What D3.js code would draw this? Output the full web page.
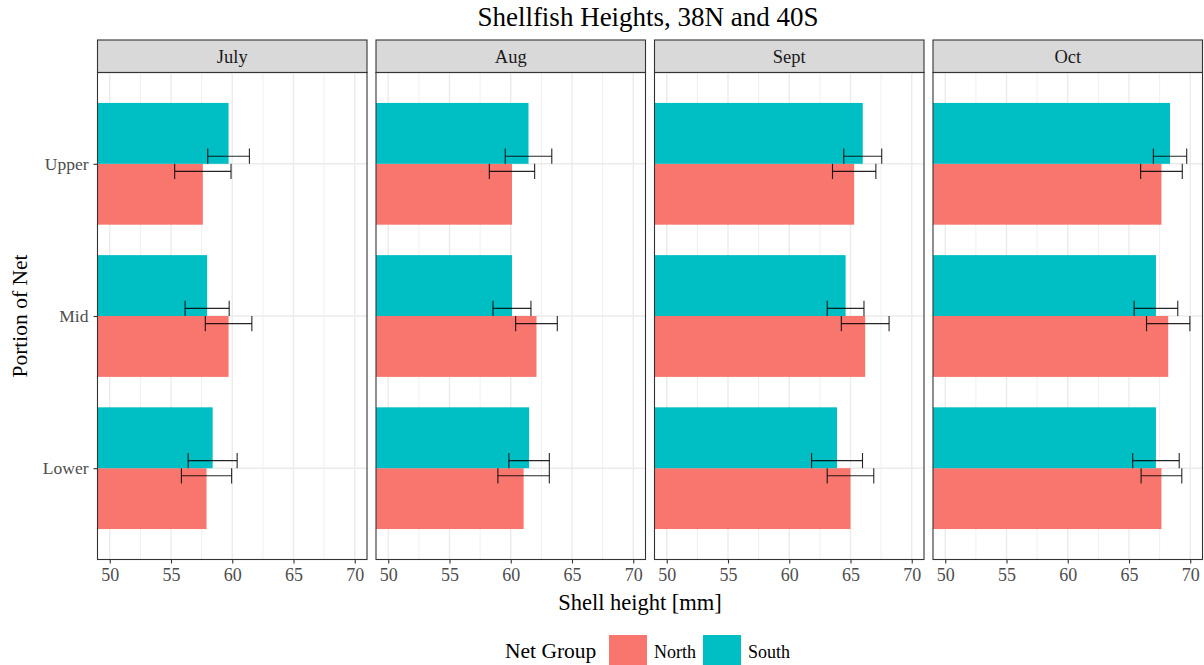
<!DOCTYPE html>
<html>
<head>
<meta charset="utf-8">
<script src="https://cdn.jsdelivr.net/npm/d3@7"></script>
<style>
  body { margin: 0; background: #fff; }
  svg { display: block; font-family: "Liberation Serif", "DejaVu Serif", serif; }
</style>
</head>
<body>
<svg width="1204" height="665"></svg>
<script>
// data
var months = ["July", "Aug", "Sept", "Oct"];
var portions = ["Upper", "Mid", "Lower"];
var groups = ["North", "South"];
var groupColors = ["#F8766D", "#00BFC4"];

// mean shell height per month, order Upper, Mid, Lower
var northMean = [
  [57.6, 59.7, 57.9],
  [60.1, 62.1, 61.05],
  [65.3, 66.2, 65.0],
  [67.65, 68.2, 67.65]
];
var southMean = [
  [59.7, 57.95, 58.4],
  [61.45, 60.1, 61.5],
  [66.0, 64.6, 63.9],
  [68.35, 67.2, 67.2]
];
// standard error
var northErr = [
  [2.3, 1.9, 2.05],
  [1.85, 1.7, 2.1],
  [1.77, 1.95, 1.9],
  [1.7, 1.77, 1.66]
];
var southErr = [
  [1.7, 1.8, 2.0],
  [1.9, 1.55, 1.65],
  [1.55, 1.5, 2.08],
  [1.36, 1.78, 1.9]
];
var xTicks = [50, 55, 60, 65, 70];
var xMinor = [52.5, 57.5, 62.5, 67.5];

// layout
var svg = d3.select("svg");
var panelLeft = 97.5;
var panelW = 269.5;
var panelGap = 9;
var stripTop = 40;
var panelTop = 72.5;
var panelBottom = 559.5;
var tickFont = 18;

var x = d3.scaleLinear().domain([49, 71]).range([0, panelW]);
// discrete axis like ggplot: 0.6 expansion each side, flipped
var yPos = d3.scaleLinear().domain([0.4, 3.6]).range([panelBottom, panelTop]);
function yOf(p) { return 3 - portions.indexOf(p); }

var rows = [];
months.forEach(function(m, mi) {
  portions.forEach(function(p, pi) {
    rows.push({month: m, portion: p, group: "North", mean: northMean[mi][pi], err: northErr[mi][pi]});
    rows.push({month: m, portion: p, group: "South", mean: southMean[mi][pi], err: southErr[mi][pi]});
  });
});

// title
svg.append("text")
  .attr("x", 648)
  .attr("y", 26)
  .attr("text-anchor", "middle")
  .attr("font-size", 27)
  .attr("fill", "#000")
  .text("Shellfish Heights, 38N and 40S");

months.forEach(function(m, mi) {
  var px = panelLeft + mi * (panelW + panelGap);
  var g = svg.append("g").attr("transform", "translate(" + px + ",0)");

  // strip
  g.append("rect")
    .attr("x", 0).attr("y", stripTop)
    .attr("width", panelW).attr("height", panelTop - stripTop)
    .attr("fill", "#D9D9D9").attr("stroke", "#333333").attr("stroke-width", 1.1);
  g.append("text")
    .attr("x", panelW / 2).attr("y", (stripTop + panelTop) / 2 + 6.5)
    .attr("text-anchor", "middle")
    .attr("font-size", 18.5)
    .attr("fill", "#1A1A1A")
    .text(m);

  // grid
  g.selectAll(".minor").data(xMinor).enter().append("line")
    .attr("x1", function(d) { return x(d); }).attr("x2", function(d) { return x(d); })
    .attr("y1", panelTop).attr("y2", panelBottom)
    .attr("stroke", "#EBEBEB").attr("stroke-width", 0.8);
  g.selectAll(".major").data(xTicks).enter().append("line")
    .attr("x1", function(d) { return x(d); }).attr("x2", function(d) { return x(d); })
    .attr("y1", panelTop).attr("y2", panelBottom)
    .attr("stroke", "#EBEBEB").attr("stroke-width", 1.4);
  g.selectAll(".hmajor").data(portions).enter().append("line")
    .attr("x1", 0).attr("x2", panelW)
    .attr("y1", function(d) { return yPos(yOf(d)); })
    .attr("y2", function(d) { return yPos(yOf(d)); })
    .attr("stroke", "#EBEBEB").attr("stroke-width", 1.4);

  var data = rows.filter(function(r) { return r.month === m; });
  var barH = yPos(0) - yPos(0.4);

  // bars: North below, South above the category line
  g.selectAll(".bar").data(data).enter().append("rect")
    .attr("x", x(49))
    .attr("y", function(d) {
      var c = yPos(yOf(d.portion));
      return d.group === "South" ? c - barH : c;
    })
    .attr("width", function(d) { return x(d.mean) - x(49); })
    .attr("height", barH)
    .attr("fill", function(d) { return groupColors[groups.indexOf(d.group)]; });

  // error bars, dodged by 0.05
  var capH = yPos(0) - yPos(0.1);
  var eb = g.selectAll(".eb").data(data).enter().append("g")
    .attr("transform", function(d) {
      var c = yPos(yOf(d.portion) + (d.group === "South" ? 0.05 : -0.05));
      return "translate(0," + c + ")";
    })
    .attr("stroke", "#000").attr("stroke-width", 1.1).attr("stroke-opacity", 0.85);
  eb.append("line")
    .attr("x1", function(d) { return x(d.mean - d.err); })
    .attr("x2", function(d) { return x(d.mean + d.err); })
    .attr("y1", 0).attr("y2", 0);
  eb.append("line")
    .attr("x1", function(d) { return x(d.mean - d.err); })
    .attr("x2", function(d) { return x(d.mean - d.err); })
    .attr("y1", -capH / 2).attr("y2", capH / 2);
  eb.append("line")
    .attr("x1", function(d) { return x(d.mean + d.err); })
    .attr("x2", function(d) { return x(d.mean + d.err); })
    .attr("y1", -capH / 2).attr("y2", capH / 2);

  // panel border
  g.append("rect")
    .attr("x", 0).attr("y", panelTop)
    .attr("width", panelW).attr("height", panelBottom - panelTop)
    .attr("fill", "none").attr("stroke", "#333333").attr("stroke-width", 1.1);

  // x axis
  var ax = g.append("g")
    .attr("transform", "translate(0," + panelBottom + ")")
    .call(d3.axisBottom(x).tickValues(xTicks).tickSize(4).tickPadding(5));
  ax.select(".domain").remove();
  ax.selectAll(".tick line").attr("stroke", "#333333").attr("stroke-width", 1.1);
  ax.selectAll(".tick text")
    .attr("font-size", tickFont).attr("fill", "#4D4D4D")
    .attr("font-family", "Liberation Serif, serif");
});

// y axis on the first panel
var ay = svg.append("g")
  .attr("transform", "translate(" + panelLeft + ",0)")
  .call(d3.axisLeft(d3.scalePoint().domain(portions).range([yPos(3), yPos(1)]))
    .tickSize(4).tickPadding(5));
ay.select(".domain").remove();
ay.selectAll(".tick line").attr("stroke", "#333333").attr("stroke-width", 1.1);
ay.selectAll(".tick text")
  .attr("font-size", 17.5).attr("fill", "#4D4D4D")
  .attr("font-family", "Liberation Serif, serif");

// axis titles
svg.append("text")
  .attr("x", 640).attr("y", 610)
  .attr("text-anchor", "middle")
  .attr("font-size", 22.5)
  .text("Shell height [mm]");
svg.append("text")
  .attr("transform", "translate(27," + (panelTop + panelBottom) / 2 + ") rotate(-90)")
  .attr("text-anchor", "middle")
  .attr("font-size", 21.5)
  .text("Portion of Net");

// legend
var legend = svg.append("g");
legend.append("text")
  .attr("x", 505).attr("y", 658)
  .attr("font-size", 21.5)
  .text("Net Group");
var keyX = [609, 703];
groups.forEach(function(gr, i) {
  legend.append("rect")
    .attr("x", keyX[i]).attr("y", 635)
    .attr("width", 38).attr("height", 31)
    .attr("fill", groupColors[i]);
  legend.append("text")
    .attr("x", keyX[i] + 45).attr("y", 658)
    .attr("font-size", 18)
    .text(gr);
});
</script>
</body>
</html>
